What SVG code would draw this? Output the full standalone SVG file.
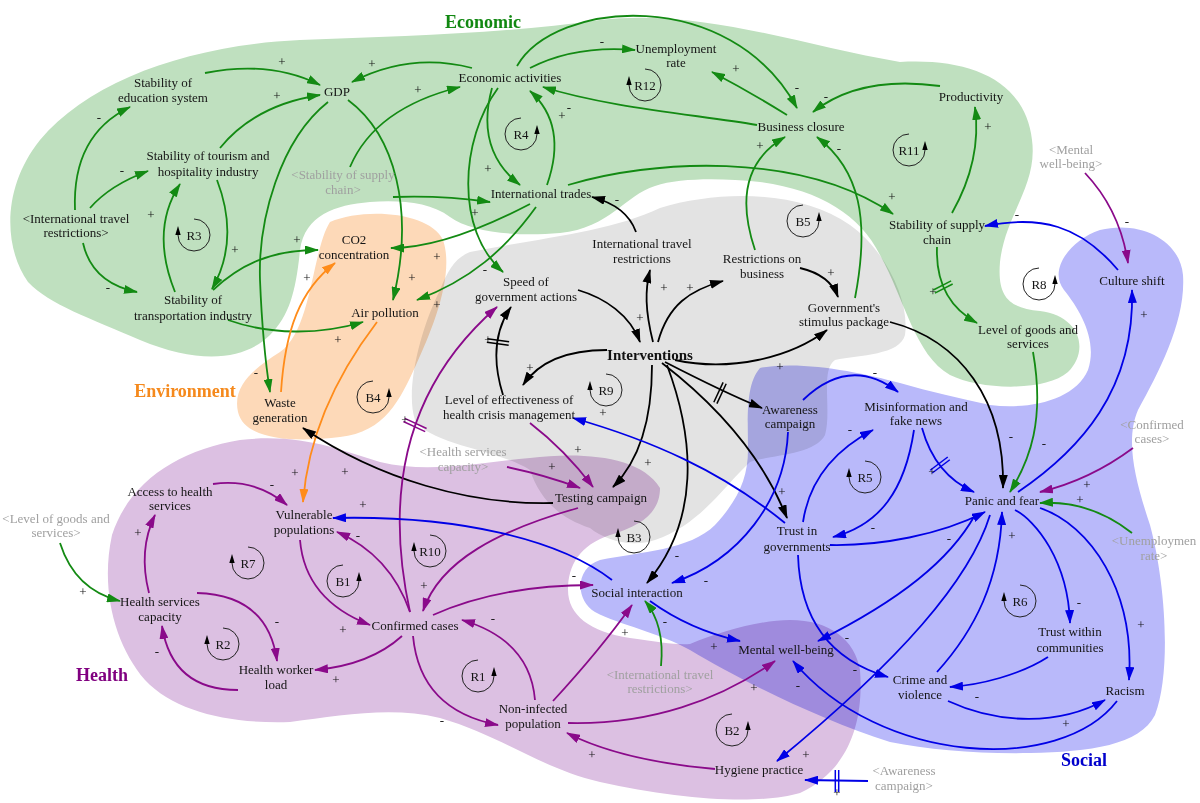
<svg xmlns="http://www.w3.org/2000/svg" width="1200" height="803" viewBox="0 0 1200 803">
<style>
.n{font-family:"Liberation Serif","Times New Roman",serif;font-size:13px;fill:#151515;text-anchor:middle}
.gr{fill:#a0a0a0}
.p{font-family:"Liberation Serif","Times New Roman",serif;font-size:13px;fill:#111;text-anchor:middle}
.t{font-family:"Liberation Serif","Times New Roman",serif;font-size:18px;font-weight:bold;text-anchor:middle}
.iv{font-family:"Liberation Serif","Times New Roman",serif;font-size:15px;font-weight:bold;fill:#111;text-anchor:middle}
.blob{mix-blend-mode:multiply}
.e{fill:none;stroke-width:1.8}
.eg{stroke:#138a13;marker-end:url(#ag)}
.eo{stroke:#ff8c1a;marker-end:url(#ao)}
.ek{stroke:#000;marker-end:url(#ak)}
.ep{stroke:#8a0a8a;marker-end:url(#ap)}
.eb{stroke:#0000e6;marker-end:url(#ab)}
.lp{fill:none;stroke:#222;stroke-width:1}
.dl{stroke-width:1.5}
</style>
<defs>
<marker id="ag" viewBox="0 0 14 9" refX="13" refY="4.5" markerWidth="14" markerHeight="9" markerUnits="userSpaceOnUse" orient="auto"><path d="M0,0 L14,4.5 L0,9 Z" fill="#138a13"/></marker>
<marker id="ao" viewBox="0 0 14 9" refX="13" refY="4.5" markerWidth="14" markerHeight="9" markerUnits="userSpaceOnUse" orient="auto"><path d="M0,0 L14,4.5 L0,9 Z" fill="#ff8c1a"/></marker>
<marker id="ak" viewBox="0 0 14 9" refX="13" refY="4.5" markerWidth="14" markerHeight="9" markerUnits="userSpaceOnUse" orient="auto"><path d="M0,0 L14,4.5 L0,9 Z" fill="#000"/></marker>
<marker id="ap" viewBox="0 0 14 9" refX="13" refY="4.5" markerWidth="14" markerHeight="9" markerUnits="userSpaceOnUse" orient="auto"><path d="M0,0 L14,4.5 L0,9 Z" fill="#8a0a8a"/></marker>
<marker id="ab" viewBox="0 0 14 9" refX="13" refY="4.5" markerWidth="14" markerHeight="9" markerUnits="userSpaceOnUse" orient="auto"><path d="M0,0 L14,4.5 L0,9 Z" fill="#0000e6"/></marker>
<g id="loopR"><path class="lp" d="M 0,-16 A 16 16 0 1 0 16,0"/><path d="M 16,-9 L 13.3,0 L 18.7,0 Z" fill="#000"/></g>
<g id="loopL"><path class="lp" d="M 0,-16 A 16 16 0 1 1 -16,0"/><path d="M -16,-9 L -18.7,0 L -13.3,0 Z" fill="#000"/></g>
</defs>
<rect width="1200" height="803" fill="#fff"/>
<g id="regions">
<path class="blob" fill="#bfe0bf" d="M 28,282 C 5,250 0,190 40,140 C 90,80 190,45 300,40 C 400,36 500,34 600,20 C 700,8 800,45 900,62 C 970,58 1025,80 1032,140 C 1038,185 1005,215 1000,262 C 997,298 1010,308 1040,311 C 1080,316 1090,350 1068,372 C 1045,392 980,390 950,375 C 915,355 905,300 880,255 C 860,215 820,190 760,182 C 720,178 680,178 655,186 C 625,195 610,228 560,233 C 515,237 470,232 450,217 C 430,202 400,200 370,202 C 335,205 305,215 300,250 C 296,290 290,315 270,335 C 245,360 200,365 140,340 C 90,318 50,305 28,282 Z"/>
<path class="blob" fill="#fdd9b8" d="M 330,222 C 365,207 430,212 443,240 C 455,275 432,330 416,365 C 400,400 385,432 340,437 C 300,442 245,442 238,412 C 232,385 255,368 280,352 C 312,330 312,250 330,222 Z"/>
<path class="blob" fill="#e3e3e3" d="M 470,252 C 540,238 610,232 660,208 C 720,190 800,190 850,225 C 885,250 910,300 905,335 C 900,355 860,355 835,360 C 820,370 832,410 825,435 C 815,455 770,455 750,462 C 725,485 700,525 655,540 C 630,548 605,540 590,528 C 560,518 540,500 530,470 C 500,450 430,445 415,420 C 405,390 420,330 440,290 C 448,270 455,258 470,252 Z"/>
<path class="blob" fill="#dcc0e2" d="M 660,488 C 660,510 645,525 610,535 C 580,545 568,565 568,590 C 568,615 590,632 630,638 C 660,642 675,645 690,644 C 720,632 760,620 790,620 C 830,620 855,640 860,670 C 864,720 850,770 800,793 C 760,805 680,800 600,782 C 540,768 500,735 440,718 C 390,706 340,716 290,722 C 230,724 175,712 145,680 C 115,645 100,590 112,535 C 130,480 180,450 240,440 C 300,433 340,450 380,462 C 430,474 480,462 530,458 C 580,452 640,455 660,488 Z"/>
<path class="blob" fill="#b9b9fa" d="M 760,368 C 800,360 860,372 900,383 C 930,392 960,398 990,405 C 1030,410 1075,400 1088,370 C 1098,340 1080,310 1064,290 C 1048,270 1070,240 1100,230 C 1140,220 1180,240 1183,275 C 1186,320 1160,370 1138,410 C 1125,440 1135,480 1150,525 C 1165,580 1172,670 1155,715 C 1140,745 1090,752 1030,753 C 980,754 930,750 890,742 C 820,720 740,680 690,650 C 660,633 620,625 595,612 C 575,600 575,568 600,560 C 640,552 690,550 715,525 C 738,500 748,478 748,450 C 748,420 745,385 760,368 Z"/>
</g>
<g id="titles">
<text class="t" x="483" y="28" fill="#118811">Economic</text>
<text class="t" x="185" y="397" fill="#f5891c">Environment</text>
<text class="t" x="102" y="681" fill="#800080">Health</text>
<text class="t" x="1084" y="766" fill="#0000cc">Social</text>
</g>
<g id="connectors">
<g class="e eg">
<path d="M 205,73 Q 270,60 320,85"/>
<path d="M 220,148 Q 255,105 320,95"/>
<path d="M 472,68 Q 410,52 352,82"/>
<path d="M 350,167 Q 375,108 460,87"/>
<path d="M 348,100 C 395,135 415,210 393,300"/>
<path d="M 328,102 C 280,140 258,220 260,280 C 262,330 265,360 270,392"/>
<path d="M 75,210 Q 72,135 130,107"/>
<path d="M 90,208 Q 110,185 148,171"/>
<path d="M 83,243 Q 92,283 137,292"/>
<path d="M 175,292 Q 150,230 180,184"/>
<path d="M 217,180 Q 240,240 212,289"/>
<path d="M 213,290 C 240,265 270,250 318,250"/>
<path d="M 228,320 C 270,335 320,335 363,322"/>
<path d="M 530,68 Q 575,45 635,50"/>
<path d="M 517,66 C 555,0 730,-15 797,108"/>
<path d="M 757,125 C 700,115 610,108 543,87"/>
<path d="M 547,185 Q 568,125 530,91"/>
<path d="M 492,88 Q 475,150 520,185"/>
<path d="M 498,88 C 460,140 455,230 503,272"/>
<path d="M 393,197 Q 440,195 490,202"/>
<path d="M 530,204 C 480,230 430,248 391,248"/>
<path d="M 536,207 C 505,250 470,280 417,300"/>
<path d="M 568,185 C 650,160 800,150 893,214"/>
<path d="M 755,250 Q 728,170 785,137"/>
<path d="M 855,298 C 870,220 860,170 817,137"/>
<path d="M 787,115 Q 750,92 712,72"/>
<path d="M 940,86 Q 860,75 813,112"/>
<path d="M 952,213 Q 982,160 975,107"/>
<path d="M 937,247 Q 935,300 977,323"/>
<path d="M 1033,352 C 1045,420 1030,460 1010,492"/>
<path d="M 1132,533 Q 1090,500 1040,503"/>
<path d="M 60,543 Q 75,590 120,601"/>
<path d="M 661,666 Q 665,625 645,601"/>
</g>
<g class="e eo">
<path d="M 281,392 C 285,330 300,290 335,263"/>
<path d="M 377,322 Q 310,410 303,502"/>
</g>
<g class="e ek">
<path d="M 636,232 C 630,215 615,203 592,197"/>
<path d="M 653,342 C 645,310 645,290 650,270"/>
<path d="M 658,342 C 668,305 690,290 723,281"/>
<path d="M 578,290 C 605,298 630,315 640,342"/>
<path d="M 800,268 Q 830,275 838,297"/>
<path d="M 675,360 C 730,372 790,358 827,330"/>
<path d="M 665,362 C 700,380 730,395 762,408"/>
<path d="M 662,363 C 710,400 760,450 787,518"/>
<path d="M 652,365 C 652,420 640,460 613,487"/>
<path d="M 667,365 C 695,440 700,520 647,583"/>
<path d="M 607,350 C 570,350 540,360 523,385"/>
<path d="M 503,395 C 492,360 495,330 511,307"/>
<path d="M 553,503 C 470,505 380,480 303,428"/>
<path d="M 890,322 C 960,340 1005,400 1003,488"/>
</g>
<g class="e ep">
<path d="M 530,423 Q 565,450 593,487"/>
<path d="M 507,467 Q 545,475 580,488"/>
<path d="M 578,508 C 500,530 440,560 423,611"/>
<path d="M 410,612 C 390,520 390,400 497,307"/>
<path d="M 410,612 Q 390,555 337,532"/>
<path d="M 300,540 Q 305,600 370,625"/>
<path d="M 433,615 Q 500,585 593,585"/>
<path d="M 535,700 Q 530,640 462,620"/>
<path d="M 413,636 Q 420,710 498,725"/>
<path d="M 553,701 Q 600,650 632,605"/>
<path d="M 568,723 C 650,725 720,700 775,661"/>
<path d="M 715,769 C 670,765 610,755 567,733"/>
<path d="M 213,484 Q 255,478 287,505"/>
<path d="M 149,593 Q 138,550 155,515"/>
<path d="M 197,593 Q 268,595 277,661"/>
<path d="M 238,690 Q 172,690 162,626"/>
<path d="M 402,636 Q 370,665 315,670"/>
<path d="M 1133,448 Q 1090,480 1040,492"/>
<path d="M 1085,173 Q 1120,210 1128,263"/>
</g>
<g class="e eb">
<path d="M 1118,270 C 1080,225 1040,215 985,226"/>
<path d="M 1018,492 C 1080,450 1135,390 1132,290"/>
<path d="M 922,428 Q 935,475 974,492"/>
<path d="M 914,430 C 905,490 880,525 833,537"/>
<path d="M 803,522 Q 812,462 873,430"/>
<path d="M 803,400 Q 850,355 898,392"/>
<path d="M 788,432 C 785,500 740,560 672,583"/>
<path d="M 650,601 Q 690,630 740,641"/>
<path d="M 612,580 C 560,540 460,515 333,518"/>
<path d="M 785,523 C 720,470 650,440 573,418"/>
<path d="M 830,545 C 880,546 940,535 985,512"/>
<path d="M 798,555 C 800,620 830,660 888,677"/>
<path d="M 975,515 C 950,560 900,600 818,641"/>
<path d="M 990,515 C 970,580 900,660 777,761"/>
<path d="M 937,672 C 975,630 1000,580 1002,512"/>
<path d="M 1015,510 C 1035,520 1068,560 1070,623"/>
<path d="M 1040,508 C 1090,525 1135,590 1129,680"/>
<path d="M 1048,657 C 1020,675 980,685 950,687"/>
<path d="M 948,701 C 1000,725 1060,725 1105,700"/>
<path d="M 1117,701 C 1060,775 880,765 793,661"/>
<path d="M 868,781 L 805,780"/>
</g>
<g id="delays" class="dl">
<g transform="translate(943,287) rotate(63)" stroke="#138a13"><line x1="-1.7" y1="-10" x2="-1.7" y2="10"/><line x1="1.7" y1="-10" x2="1.7" y2="10"/></g>
<g transform="translate(720,393) rotate(25)" stroke="#000"><line x1="-1.7" y1="-11" x2="-1.7" y2="11"/><line x1="1.7" y1="-11" x2="1.7" y2="11"/></g>
<g transform="translate(498,342) rotate(-82)" stroke="#000"><line x1="-1.7" y1="-11" x2="-1.7" y2="11"/><line x1="1.7" y1="-11" x2="1.7" y2="11"/></g>
<g transform="translate(415,425) rotate(-65)" stroke="#8a0a8a"><line x1="-1.7" y1="-12" x2="-1.7" y2="12"/><line x1="1.7" y1="-12" x2="1.7" y2="12"/></g>
<g transform="translate(940,465) rotate(53)" stroke="#0000e6"><line x1="-1.7" y1="-11" x2="-1.7" y2="11"/><line x1="1.7" y1="-11" x2="1.7" y2="11"/></g>
<g transform="translate(837,781) rotate(0)" stroke="#0000e6"><line x1="-1.7" y1="-11" x2="-1.7" y2="11"/><line x1="1.7" y1="-11" x2="1.7" y2="11"/></g>
</g>
</g>
<g id="polarities" class="p">
<text x="282" y="66">+</text><text x="277" y="100">+</text><text x="372" y="68">+</text><text x="418" y="94">+</text>
<text x="99" y="122">-</text><text x="122" y="175">-</text><text x="108" y="292">-</text><text x="151" y="219">+</text>
<text x="235" y="254">+</text><text x="297" y="244">+</text><text x="256" y="377">-</text><text x="412" y="282">+</text>
<text x="437" y="261">+</text><text x="437" y="309">+</text><text x="475" y="217">+</text><text x="488" y="173">+</text>
<text x="485" y="274">-</text><text x="562" y="120">+</text><text x="569" y="112">-</text><text x="602" y="46">-</text>
<text x="797" y="92">-</text><text x="736" y="73">+</text><text x="826" y="101">-</text><text x="760" y="150">+</text>
<text x="839" y="153">-</text><text x="892" y="201">+</text><text x="988" y="131">+</text><text x="933" y="296">+</text>
<text x="1044" y="448">-</text><text x="1080" y="504">+</text><text x="83" y="596">+</text><text x="665" y="626">-</text>
<text x="338" y="344">+</text>
<text x="307" y="282">+</text><text x="295" y="477">+</text>
<text x="617" y="204">-</text><text x="664" y="292">+</text><text x="690" y="292">+</text><text x="640" y="322">+</text>
<text x="831" y="277">+</text><text x="780" y="371">+</text><text x="782" y="496">+</text><text x="648" y="467">+</text>
<text x="677" y="560">-</text><text x="530" y="372">+</text><text x="488" y="344">+</text><text x="345" y="476">+</text>
<text x="1011" y="441">-</text>
<text x="578" y="454">+</text><text x="552" y="471">+</text><text x="424" y="590">+</text><text x="405" y="424">+</text>
<text x="358" y="540">-</text><text x="343" y="634">+</text><text x="574" y="580">-</text><text x="493" y="623">-</text>
<text x="442" y="725">-</text><text x="625" y="637">+</text><text x="754" y="692">+</text><text x="592" y="759">+</text>
<text x="272" y="489">-</text><text x="138" y="537">+</text><text x="277" y="626">-</text><text x="157" y="656">-</text>
<text x="336" y="684">+</text><text x="1087" y="489">+</text><text x="1127" y="226">-</text>
<text x="1017" y="219">-</text><text x="1144" y="319">+</text><text x="932" y="476">+</text><text x="873" y="532">-</text>
<text x="850" y="434">-</text><text x="875" y="377">-</text><text x="706" y="585">-</text><text x="714" y="651">+</text>
<text x="363" y="509">+</text><text x="603" y="417">+</text><text x="949" y="543">-</text><text x="847" y="642">-</text>
<text x="855" y="674">-</text><text x="806" y="759">+</text><text x="1012" y="540">+</text><text x="1079" y="607">-</text>
<text x="1141" y="629">+</text><text x="977" y="701">-</text><text x="1066" y="728">+</text><text x="798" y="690">-</text>
<text x="837" y="797">+</text>
</g>
<g id="loops" class="n">
<g id="loop-R3"><use href="#loopL" x="194" y="235"/><text x="194" y="240">R3</text></g>
<g id="loop-R4"><use href="#loopR" x="521" y="134"/><text x="521" y="139">R4</text></g>
<g id="loop-R12"><use href="#loopL" x="645" y="85"/><text x="645" y="90">R12</text></g>
<g id="loop-R11"><use href="#loopR" x="909" y="150"/><text x="909" y="155">R11</text></g>
<g id="loop-B5"><use href="#loopR" x="803" y="221"/><text x="803" y="226">B5</text></g>
<g id="loop-R8"><use href="#loopR" x="1039" y="284"/><text x="1039" y="289">R8</text></g>
<g id="loop-R9"><use href="#loopL" x="606" y="390"/><text x="606" y="395">R9</text></g>
<g id="loop-B4"><use href="#loopR" x="373" y="397"/><text x="373" y="402">B4</text></g>
<g id="loop-R10"><use href="#loopL" x="430" y="551"/><text x="430" y="556">R10</text></g>
<g id="loop-B1"><use href="#loopR" x="343" y="581"/><text x="343" y="586">B1</text></g>
<g id="loop-R7"><use href="#loopL" x="248" y="563"/><text x="248" y="568">R7</text></g>
<g id="loop-R2"><use href="#loopL" x="223" y="644"/><text x="223" y="649">R2</text></g>
<g id="loop-R1"><use href="#loopR" x="478" y="676"/><text x="478" y="681">R1</text></g>
<g id="loop-B3"><use href="#loopL" x="634" y="537"/><text x="634" y="542">B3</text></g>
<g id="loop-B2"><use href="#loopR" x="732" y="730"/><text x="732" y="735">B2</text></g>
<g id="loop-R5"><use href="#loopL" x="865" y="477"/><text x="865" y="482">R5</text></g>
<g id="loop-R6"><use href="#loopL" x="1020" y="601"/><text x="1020" y="606">R6</text></g>
</g>
<g id="nodes" class="n">
<g id="n-edu"><text x="163" y="87">Stability of</text><text x="163" y="102">education system</text></g>
<g id="n-tourism"><text x="208" y="160">Stability of tourism and</text><text x="208" y="176">hospitality industry</text></g>
<g id="n-itr1"><text x="76" y="223">&lt;International travel</text><text x="76" y="237">restrictions&gt;</text></g>
<g id="n-transport"><text x="193" y="304">Stability of</text><text x="193" y="320">transportation industry</text></g>
<g id="n-gdp"><text x="337" y="96">GDP</text></g>
<g id="n-econ"><text x="510" y="82">Economic activities</text></g>
<g id="n-supply-shadow"><text x="343" y="179" class="gr">&lt;Stability of supply</text><text x="343" y="194" class="gr">chain&gt;</text></g>
<g id="n-trades"><text x="541" y="198">International trades</text></g>
<g id="n-co2"><text x="354" y="244">CO2</text><text x="354" y="259">concentration</text></g>
<g id="n-unemp"><text x="676" y="53">Unemployment</text><text x="676" y="67">rate</text></g>
<g id="n-closure"><text x="801" y="131">Business closure</text></g>
<g id="n-product"><text x="971" y="101">Productivity</text></g>
<g id="n-supply"><text x="937" y="229">Stability of supply</text><text x="937" y="244">chain</text></g>
<g id="n-mwb-shadow"><text x="1071" y="154" class="gr">&lt;Mental</text><text x="1071" y="168" class="gr">well-being&gt;</text></g>
<g id="n-culture"><text x="1132" y="285">Culture shift</text></g>
<g id="n-goods"><text x="1028" y="334">Level of goods and</text><text x="1028" y="348">services</text></g>
<g id="n-itr"><text x="642" y="248">International travel</text><text x="642" y="263">restrictions</text></g>
<g id="n-restr"><text x="762" y="263">Restrictions on</text><text x="762" y="278">business</text></g>
<g id="n-stimulus"><text x="844" y="312">Government's</text><text x="844" y="326">stimulus package</text></g>
<g id="n-interv"><text x="650" y="360" class="iv">Interventions</text></g>
<g id="n-speed"><text x="526" y="286">Speed of</text><text x="526" y="301">government actions</text></g>
<g id="n-effect"><text x="509" y="404">Level of effectiveness of</text><text x="509" y="419">health crisis management</text></g>
<g id="n-aware"><text x="790" y="414">Awareness</text><text x="790" y="428">campaign</text></g>
<g id="n-testing"><text x="601" y="502">Testing campaign</text></g>
<g id="n-hsc-shadow"><text x="463" y="456" class="gr">&lt;Health services</text><text x="463" y="471" class="gr">capacity&gt;</text></g>
<g id="n-air"><text x="385" y="317">Air pollution</text></g>
<g id="n-waste"><text x="280" y="407">Waste</text><text x="280" y="422">generation</text></g>
<g id="n-access"><text x="170" y="496">Access to health</text><text x="170" y="510">services</text></g>
<g id="n-goods-shadow"><text x="56" y="523" class="gr">&lt;Level of goods and</text><text x="56" y="537" class="gr">services&gt;</text></g>
<g id="n-vuln"><text x="304" y="519">Vulnerable</text><text x="304" y="534">populations</text></g>
<g id="n-hsc"><text x="160" y="606">Health services</text><text x="160" y="621">capacity</text></g>
<g id="n-hwl"><text x="276" y="674">Health worker</text><text x="276" y="689">load</text></g>
<g id="n-confirmed"><text x="415" y="630">Confirmed cases</text></g>
<g id="n-noninf"><text x="533" y="713">Non-infected</text><text x="533" y="728">population</text></g>
<g id="n-social"><text x="637" y="597">Social interaction</text></g>
<g id="n-itr-shadow"><text x="660" y="679" class="gr">&lt;International travel</text><text x="660" y="693" class="gr">restrictions&gt;</text></g>
<g id="n-mwb"><text x="786" y="654">Mental well-being</text></g>
<g id="n-hygiene"><text x="759" y="774">Hygiene practice</text></g>
<g id="n-aware-shadow"><text x="904" y="775" class="gr">&lt;Awareness</text><text x="904" y="790" class="gr">campaign&gt;</text></g>
<g id="n-misinfo"><text x="916" y="411">Misinformation and</text><text x="916" y="425">fake news</text></g>
<g id="n-trust"><text x="797" y="535">Trust in</text><text x="797" y="551">governments</text></g>
<g id="n-panic"><text x="1002" y="505">Panic and fear</text></g>
<g id="n-confirmed-shadow"><text x="1152" y="429" class="gr">&lt;Confirmed</text><text x="1152" y="443" class="gr">cases&gt;</text></g>
<g id="n-unemp-shadow"><text x="1154" y="545" class="gr">&lt;Unemploymen</text><text x="1154" y="560" class="gr">rate&gt;</text></g>
<g id="n-trustcomm"><text x="1070" y="636">Trust within</text><text x="1070" y="652">communities</text></g>
<g id="n-crime"><text x="920" y="684">Crime and</text><text x="920" y="699">violence</text></g>
<g id="n-racism"><text x="1125" y="695">Racism</text></g>
</g>
</svg>
